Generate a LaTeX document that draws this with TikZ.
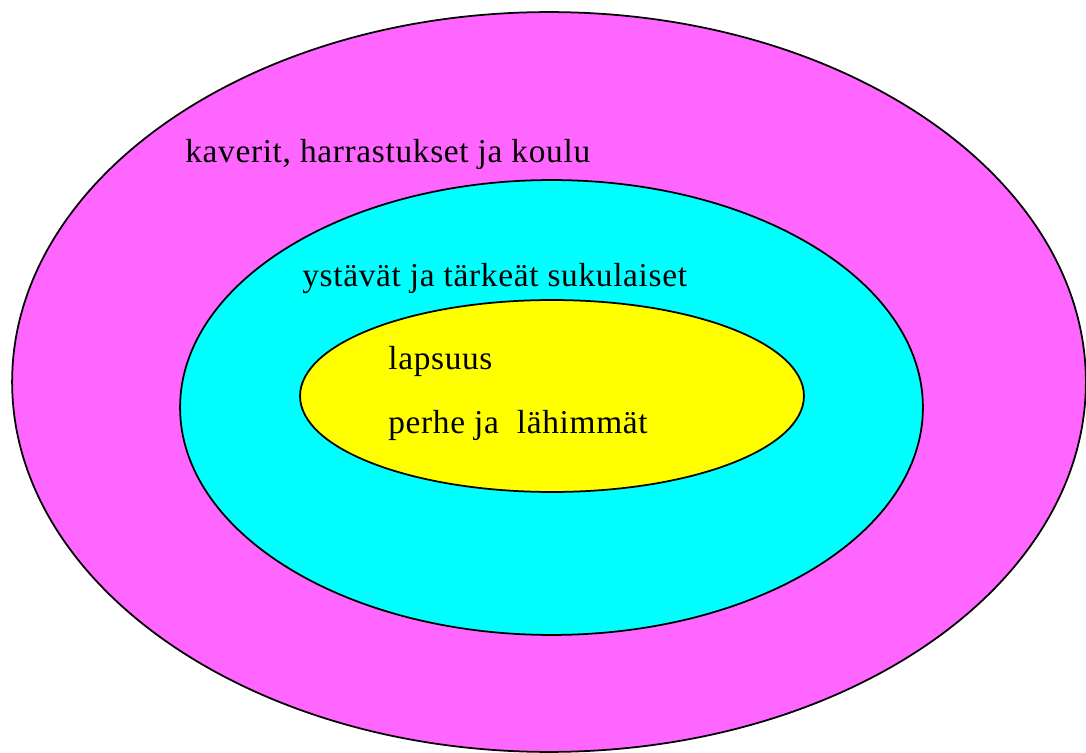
\documentclass[tikz,border=0pt]{standalone}
\usepackage{fontspec}
\setmainfont[LetterSpace=2]{Liberation Serif}
\usetikzlibrary{positioning,shapes.geometric}

\definecolor{ringpink}{HTML}{FF66FF}
\definecolor{ringcyan}{HTML}{00FFFF}
\definecolor{ringyellow}{HTML}{FFFF00}

\begin{document}
\begin{tikzpicture}[
    x=0.02cm, y=-0.02cm,
    every node/.style={font=\fontsize{19}{22}\selectfont},
    ring/.style={ellipse, draw, line width=1pt, inner sep=0pt},
    label/.style={anchor=base west, inner sep=0pt}
]
\useasboundingbox (0,0) rectangle (1086,753);

% Outer ring
\node[ring, fill=ringpink, minimum width=21.48cm, minimum height=14.8cm] (outer) at (549,382) {};
\node[label] (friends) at (185,163) {kaverit, harrastukset ja koulu};

% Middle ring
\node[ring, fill=ringcyan, minimum width=14.86cm, minimum height=9.1cm] (middle) at (551.5,407.5) {};
\node[label] (relatives) at (302,287) {ystävät ja tärkeät sukulaiset};

% Inner ring
\node[ring, fill=ringyellow, minimum width=10.08cm, minimum height=3.84cm] (inner) at (552,396) {};
\node[label] (childhood) at (388,370) {lapsuus};
\node[label] (family) at (388,434) {perhe ja \ lähimmät};

\end{tikzpicture}
\end{document}
